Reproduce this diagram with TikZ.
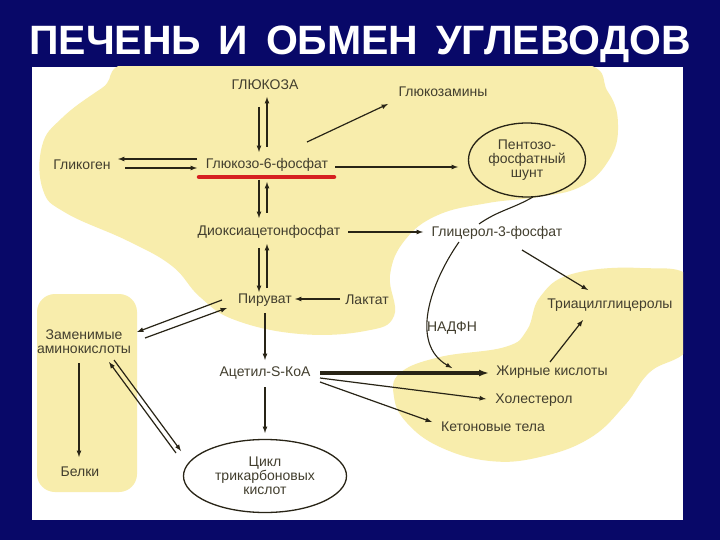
\documentclass[tikz,border=0pt]{standalone}
\usepackage{fontspec}
\setmainfont{Liberation Sans}
\usetikzlibrary{shapes.geometric,calc,arrows.meta}
\definecolor{navy}{RGB}{8,8,104}
\definecolor{blob}{RGB}{248,237,172}
\definecolor{ink}{RGB}{66,62,46}
\definecolor{arrowcol}{RGB}{40,36,22}
\definecolor{redline}{RGB}{214,32,32}
\begin{document}
\begin{tikzpicture}[x=1pt,y=-1pt,font=\fontsize{14}{14}\selectfont,
lbl/.style={text=ink,inner sep=1pt,align=center},
cyc/.style={lbl,ellipse,draw=arrowcol,line width=1.3pt},
arr/.style={draw=arrowcol,line width=1.2pt,-latex}]
\useasboundingbox(0,0)rectangle(720,540);
\fill[navy](0,0)rectangle(720,540);
\fill[white](32,67)rectangle(683,520);
\begin{scope}
\clip(32,67)rectangle(683,520);
\fill[blob]plot[smooth cycle,tension=0.7]coordinates{(150,58)(380,50)(570,60)(608,92)(618,130)(607,163)(580,187)(538,197)(488,203)(438,215)(405,240)(390,275)(394,316)(365,331)(300,334)(235,320)(200,297)(172,266)(128,241)(66,213)(43,190)(42,146)(62,118)(102,88)};
\fill[blob]plot[smooth cycle,tension=0.7]coordinates{(572,274)(640,268)(692,280)(690,345)(650,372)(625,405)(590,438)(540,457)(490,461)(440,447)(407,423)(394,397)(400,373)(440,357)(505,347)(527,330)(540,297)};
\fill[blob,rounded corners=18](37,294)rectangle(137,492);
\end{scope}
\node[white,anchor=base,font=\fontsize{41}{42}\selectfont\bfseries](title)at(360,55){ПЕЧЕНЬ\hspace{0.43em}И\hspace{0.43em}ОБМЕН\hspace{0.43em}УГЛЕВОДОВ};
\node[lbl](glc)at(265,85){ГЛЮКОЗА};
\node[lbl](glcam)at(443,92){Глюкозамины};
\node[lbl](glycogen)at(82,165){Гликоген};
\node[lbl](g6p)at(267,165){Глюкозо-6-фосфат};
\node[cyc,minimum width=117,minimum height=74](pent)at(527,160){Пентозо-\\фосфатный\\шунт};
\node[lbl](dap)at(269,232){Диоксиацетонфосфат};
\node[lbl](glycerol)at(497,233){Глицерол-3-фосфат};
\node[lbl](pyr)at(265,300){Пируват};
\node[lbl](lactate)at(367,300){Лактат};
\node[lbl](triacyl)at(610,305){Триацилглицеролы};
\node[lbl](nadph)at(452,328){НАДФН};
\node[lbl](amino)at(84,342){Заменимые\\аминокислоты};
\node[lbl](acetyl)at(265,373){Ацетил-S-КоА};
\node[lbl](fatty)at(552,372){Жирные кислоты};
\node[lbl](chol)at(534,400){Холестерол};
\node[lbl](keton)at(493,427){Кетоновые тела};
\node[lbl](belki)at(80,472){Белки};
\node[cyc,minimum width=163,minimum height=73](tca)at(265,476){Цикл\\трикарбоновых\\кислот};
\draw[arr]($(glc)+(-6,22)$)--($(g6p)+(-8,-13)$);
\draw[arr]($(g6p)+(0,-18)$)--($(glc)+(2,12)$);
\draw[arr]($(g6p)+(-8,15)$)--($(dap)+(-10,-14)$);
\draw[arr]($(dap)+(-2,-19)$)--($(g6p)+(0,17)$);
\draw[arr]($(dap)+(-10,16)$)--($(pyr)+(-6,-8)$);
\draw[arr]($(pyr)+(2,-12)$)--($(dap)+(-2,12)$);
\draw[arr]($(g6p)+(-70,-6)$)--($(glycogen)+(36,-6)$);
\draw[arr]($(glycogen)+(43,3)$)--($(g6p)+(-70,3)$);
\draw[arr]($(g6p)+(40,-23)$)--($(glcam)+(-55,12)$);
\draw[arr]($(g6p)+(68,2)$)--($(pent)+(-69,7)$);
\draw[arr]($(dap)+(79,0)$)--($(glycerol)+(-74,-1)$);
\draw[arr]($(glycerol)+(25,17)$)--($(triacyl)+(-22,-15)$);
\draw[arr]($(fatty)+(-2,-10)$)--($(triacyl)+(-27,15)$);
\draw[arr]($(lactate)+(-27,-1)$)--($(pyr)+(30,-1)$);
\draw[arr]($(pyr)+(-43,0)$)--($(amino)+(53,-10)$);
\draw[arr]($(amino)+(61,-4)$)--($(pyr)+(-38,8)$);
\draw[arr]($(pyr)+(0,13)$)--($(acetyl)+(0,-13)$);
\draw[arr]($(acetyl)+(0,14)$)--($(tca)+(0,-43)$);
\draw[arr]($(amino)+(-5,21)$)--($(belki)+(-1,-15)$);
\draw[arr]($(tca)+(-89,-23)$)--($(amino)+(25,20)$);
\draw[arr]($(amino)+(30,18)$)--($(tca)+(-84,-25)$);
\draw[arr,line width=3.2pt,-{Latex[length=10pt,width=7pt]}]($(acetyl)+(55,0)$)--($(fatty)+(-63,1)$);
\draw[arr]($(acetyl)+(55,5)$)--($(chol)+(-48,-1)$);
\draw[arr]($(acetyl)+(55,9)$)--($(keton)+(-61,-5)$);
\draw[arrowcol,line width=1.1pt]($(pent)+(6,37)$)to[out=210,in=35]($(glycerol)+(-18,-9)$);
\draw[arr,line width=1.1pt]($(glycerol)+(-38,9)$)to[out=235,in=150]($(fatty)+(-100,-4)$);
\draw[redline,line width=4.5pt,line cap=round]($(g6p)+(-68,12)$)--($(g6p)+(67,12)$);
\end{tikzpicture}
\end{document}
